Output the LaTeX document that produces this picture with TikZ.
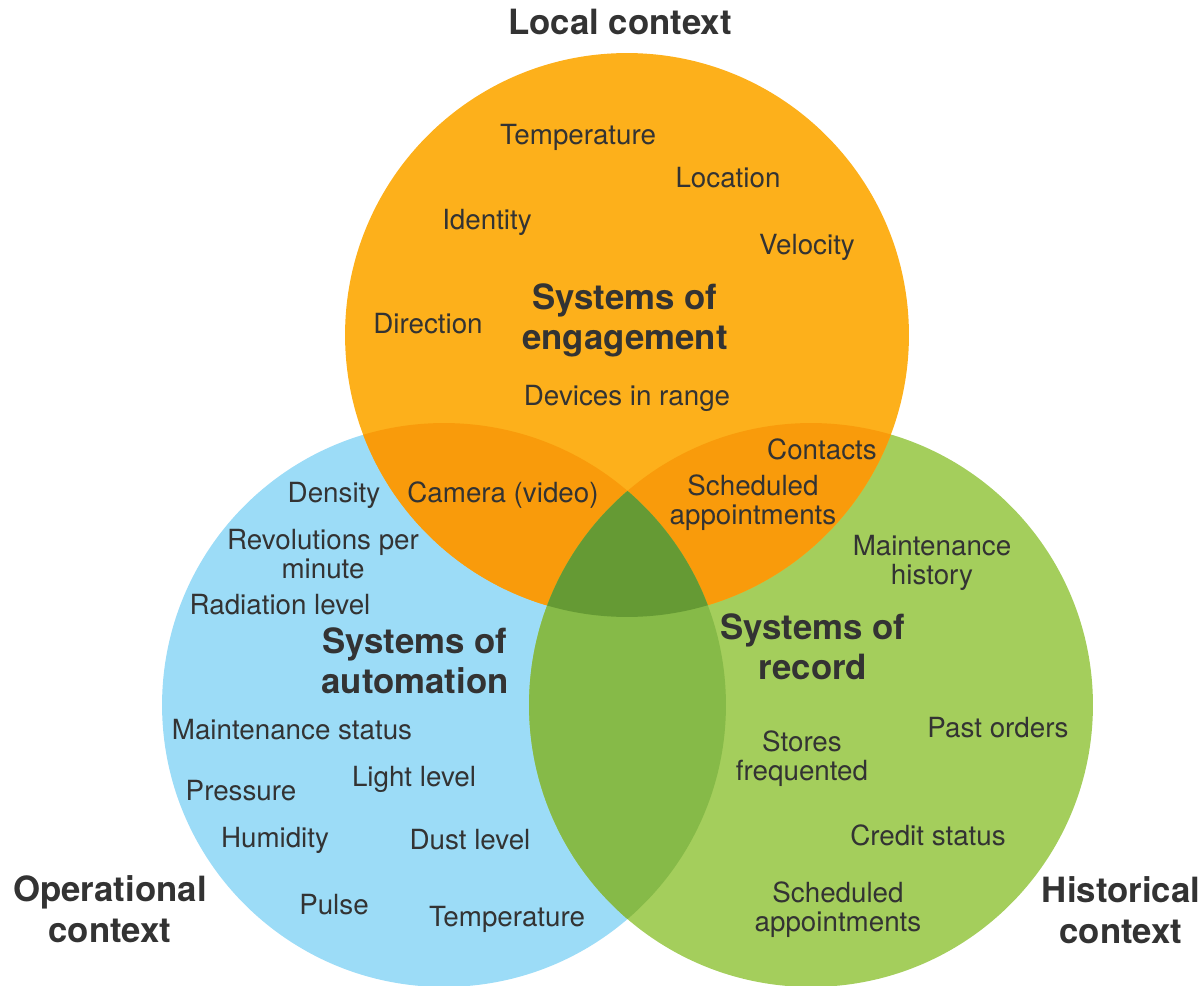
\documentclass[tikz,border=0pt]{standalone}
\usepackage{fontspec}
\setmainfont{TeX Gyre Heros}

\definecolor{engage}{HTML}{FDB01B}
\definecolor{engover}{HTML}{F99B0B}
\definecolor{autofill}{HTML}{9CDCF7}
\definecolor{recfill}{HTML}{A4CE5C}
\definecolor{autorec}{HTML}{86BA48}
\definecolor{allthree}{HTML}{659A34}
\definecolor{ink}{HTML}{333333}

\tikzset{
  item/.style={text=ink, align=center, inner sep=0pt, yshift=-0.04cm,
    font={\fontsize{15.8}{16.6}\selectfont}},
  title/.style={text=ink, align=center, inner sep=0pt, yshift=-0.05cm,
    font={\fontsize{19.8}{23}\selectfont\bfseries}},
  ctx/.style={text=ink, align=center, inner sep=0pt,
    font={\fontsize{19.8}{23}\selectfont\bfseries}}
}

\begin{document}
\begin{tikzpicture}[x=0.02cm, y=-0.02cm]
    \useasboundingbox (0,0) rectangle (1204,986);

    \coordinate (eng) at (627,335);
    \coordinate (aut) at (444,705);
    \coordinate (rec) at (811,705);

    % the three discs
    \fill[autofill] (aut) circle[radius=5.64cm];
    \fill[recfill] (rec) circle[radius=5.64cm];
    \fill[engage] (eng) circle[radius=5.64cm];

    % overlaps
    \begin{scope}
        \clip (eng) circle[radius=5.64cm];
        \fill[engover] (aut) circle[radius=5.64cm];
        \fill[engover] (rec) circle[radius=5.64cm];
    \end{scope}
    \begin{scope}
        \clip (aut) circle[radius=5.64cm];
        \fill[autorec] (rec) circle[radius=5.64cm];
        \clip (rec) circle[radius=5.64cm];
        \fill[allthree] (eng) circle[radius=5.64cm];
    \end{scope}

    % context labels
    \node[ctx] (local) at (620,22) {Local context};
    \node[ctx] (oper) at (110,909) {Operational\\context};
    \node[ctx] (hist) at (1121,910) {Historical\\context};

    % systems of engagement
    \node[title] (engt) at (625,318) {Systems of\\engagement};
    \node[item] (temp1) at (578,135) {Temperature};
    \node[item] (loc) at (728,176) {Location};
    \node[item] (ident) at (487,220) {Identity};
    \node[item] (velo) at (807,245) {Velocity};
    \node[item] (dir) at (428,322) {Direction};
    \node[item] (devs) at (627,396) {Devices in range};
    \node[item] (cont) at (822,447) {Contacts};
    \node[item] (cam) at (503,493) {Camera (video)};
    \node[item] (sched1) at (753,501) {Scheduled\\appointments};

    % systems of automation
    \node[title] (autt) at (415,658) {Systems of\\automation};
    \node[item] (dens) at (334,493) {Density};
    \node[item] (revs) at (323,552) {Revolutions per\\minute};
    \node[item] (rad) at (280,603) {Radiation level};
    \node[item] (mstat) at (292,728) {Maintenance status};
    \node[item] (press) at (241,789) {Pressure};
    \node[item] (light) at (414,777) {Light level};
    \node[item] (humid) at (275,838) {Humidity};
    \node[item] (dust) at (470,838) {Dust level};
    \node[item] (pulse) at (334,903) {Pulse};
    \node[item] (temp2) at (507,917) {Temperature};

    % systems of record
    \node[title] (rect) at (813,644) {Systems of\\record};
    \node[item] (mhist) at (932,561) {Maintenance\\history};
    \node[item] (past) at (998,726) {Past orders};
    \node[item] (stores) at (802,757) {Stores\\frequented};
    \node[item] (credit) at (928,833) {Credit status};
    \node[item] (sched2) at (838,908) {Scheduled\\appointments};
\end{tikzpicture}
\end{document}
